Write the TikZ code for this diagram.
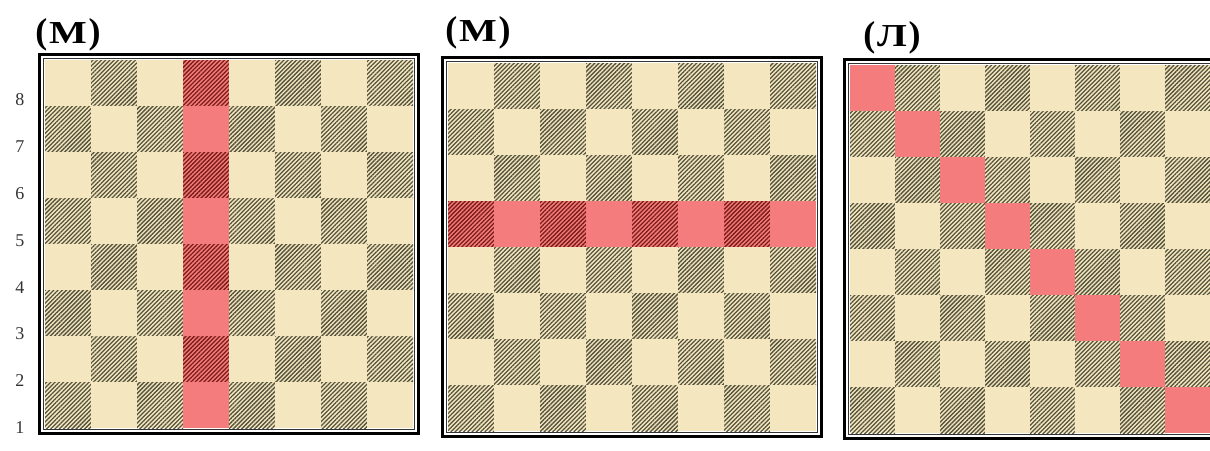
\documentclass[tikz,border=0pt]{standalone}
\usepackage{fontspec}
\setmainfont{Liberation Serif}
\usetikzlibrary{patterns.meta}
\definecolor{cream}{HTML}{F4E7C0}
\definecolor{hatchcol}{HTML}{55523C}
\definecolor{pinkhl}{HTML}{F57C7C}
\definecolor{redhatch}{HTML}{7A1C16}
\tikzset{
  lightsq/.style={fill=cream},
  darksq/.style={fill=cream, postaction={pattern={Lines[angle=45,distance=3.0pt,line width=1.3pt]}, pattern color=hatchcol}},
  hlight/.style={fill=pinkhl},
  hdark/.style={fill=pinkhl, postaction={pattern={Lines[angle=45,distance=3.0pt,line width=1.3pt]}, pattern color=redhatch}},
  frameout/.style={draw=black, line width=3.5pt},
  framein/.style={draw=black!80, line width=1pt},
  boardtitle/.style={font=\bfseries, inner sep=0pt},
  ranklabel/.style={font=\fontsize{18}{18}\selectfont, text=black!80, inner sep=0pt}
}
\newcommand\bigparen[1]{{\fontsize{36}{36}\selectfont #1}}
\newcommand\titleletter[1]{{\fontsize{32}{32}\selectfont\scalebox{1.25}[1]{#1}}}
\newcommand\drawboard[5]{%
  \foreach \i in {0,...,7}{%
    \foreach \j in {0,...,7}{%
      \pgfmathtruncatemacro\dk{mod(\i+\j,2)}%
      \pgfmathtruncatemacro\hl{#5}%
      \ifnum\hl=1
        \ifnum\dk=1 \def\st{hdark}\else\def\st{hlight}\fi
      \else
        \ifnum\dk=1 \def\st{darksq}\else\def\st{lightsq}\fi
      \fi
      \path[\st] ({#1+\i*#3},{#2+\j*#4}) rectangle ++(#3,#4);
    }%
  }%
  \draw[framein] ({#1-1.5},{#2-1.5}) rectangle ({#1+8*#3+1.5},{#2+8*#4+1.5});
  \draw[frameout] ({#1-5.5},{#2-5.5}) rectangle ({#1+8*#3+5.5},{#2+8*#4+5.5});
}
\begin{document}
\begin{tikzpicture}[x=1pt,y=-1pt]
  \useasboundingbox (0,0) rectangle (1210,450);
  \clip (0,0) rectangle (1210,450);
  \fill[white] (0,0) rectangle (1210,450);
  % board 1: d-file
  \drawboard{45}{60}{46}{46}{\i==3}
  % board 2: rank 5
  \drawboard{448}{63}{46}{46}{\j==3}
  % board 3: long diagonal a8-h1
  \drawboard{850}{65}{45}{46}{\i==\j}
  % titles
  \node[boardtitle] (t1) at (68,35) {\bigparen{(}\,\titleletter{М}\,\bigparen{)}};
  \node[boardtitle] (t2) at (478,33) {\bigparen{(}\,\titleletter{М}\,\bigparen{)}};
  \node[boardtitle] (t3) at (892,38) {\bigparen{(}\,\titleletter{Л}\,\bigparen{)}};
  % rank labels
  \foreach \r in {1,...,8}{
    \node[ranklabel] (r\r) at (20,{100+(8-\r)*46.8}) {\r};
  }
\end{tikzpicture}
\end{document}
